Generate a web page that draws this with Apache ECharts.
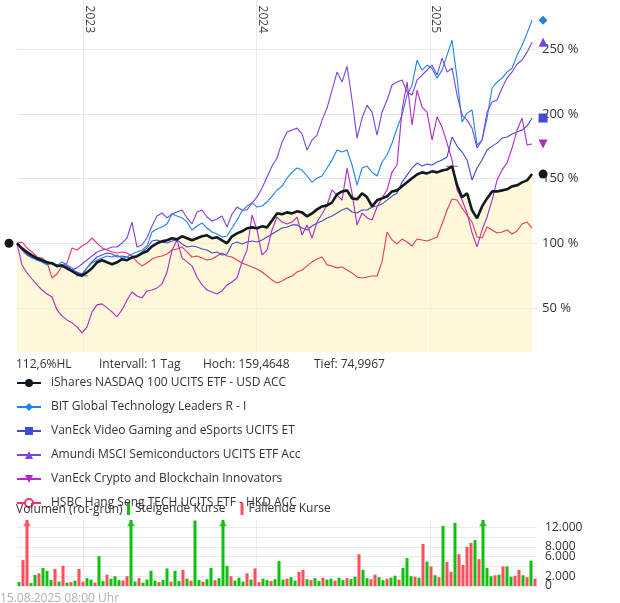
<!DOCTYPE html>
<html>
<head>
<meta charset="utf-8">
<script src="https://cdn.jsdelivr.net/npm/echarts@6/dist/echarts.min.js"></script>
<style>
  html, body { margin: 0; padding: 0; background: #fff; }
  #chart { width: 620px; height: 603px; }
</style>
</head>
<body>
<div id="chart"></div>
<script>
const nasdaq = [
  100, 96.1, 93.1, 90.7, 88.4, 86.9, 85.3, 84.6, 82.3, 83.0,
  80.7, 78.4, 76.1, 75.0, 77.6, 80.7, 85.3, 86.9, 85.3, 83.8,
  85.3, 87.7, 86.9, 89.2, 90.0, 92.3, 93.8, 97.7, 100, 101.5,
  102.3, 103.9, 103.1, 105.4, 103.9, 102.3, 103.9, 105.4, 106.2, 103.9,
  104.6, 102.3, 100, 105.4, 107.7, 109.3, 111.6, 112.3, 111.6, 113.1,
  112.3, 117.7, 123.1, 122.4, 123.9, 123.1, 124.7, 123.9, 120.8, 123.1,
  126.2, 128.5, 129.3, 131.6, 137.8, 140.1, 140.9, 134.7, 134.0, 138.6,
  135.5, 128.5, 133.2, 134.7, 136.3, 140.1, 140.9, 144.0, 147.1, 150.2,
  153.2, 154.8, 154.0, 155.6, 154.8, 156.3, 157.1, 159.5, 144.8, 135.5,
  138.6, 125.5, 119.3, 128.5, 134.7, 140.1, 140.1, 140.9, 141.7, 144.0,
  144.8, 147.1, 148.6, 153.5
];
const bitTech = [
  100, 94.9, 91.0, 88.7, 87.1, 85.6, 83.3, 84.8, 82.5, 85.6,
  83.3, 81.0, 77.1, 74.8, 81.0, 84.8, 87.1, 88.7, 90.2, 89.4,
  91.0, 88.7, 89.4, 91.7, 93.3, 94.9, 98.0, 108.7, 111.0, 112.6,
  114.9, 122.7, 121.1, 119.6, 116.5, 110.3, 113.4, 115.7, 111.8, 108.7,
  107.2, 104.9, 105.6, 111.8, 118.0, 124.9, 128.8, 131.2, 128.0, 128.8,
  131.9, 136.5, 141.2, 144.2, 150.4, 155.0, 158.2, 156.6, 152.0, 147.3,
  150.4, 152.0, 158.2, 164.3, 172.1, 170.5, 172.1, 160.5, 145.0, 158.2,
  159.7, 155.0, 152.0, 162.8, 168.2, 177.5, 189.0, 199.1, 214.5, 222.2,
  241.5, 233.8, 237.6, 235.3, 227.6, 233.8, 245.4, 257.0, 227.6, 193.7,
  200.6, 203.0, 175.9, 179.8, 196.8, 220.0, 224.6, 227.6, 232.3, 235.3,
  245.4, 253.1, 262.4, 272.4
];
const vanEckGaming = [
  100, 95.6, 91.7, 89.4, 87.1, 85.6, 84.0, 84.8, 83.3, 82.5,
  82.5, 79.4, 77.8, 76.3, 81.0, 85.6, 89.4, 91.0, 92.5, 91.7,
  89.4, 90.2, 89.4, 88.7, 89.4, 93.3, 96.4, 101.8, 102.6, 101.0,
  100.2, 101.8, 102.6, 99.5, 97.1, 97.9, 97.1, 95.6, 94.8, 92.5,
  93.3, 91.0, 91.7, 99.5, 101.0, 99.5, 101.0, 101.8, 101.0, 102.6,
  104.9, 107.2, 109.5, 111.8, 112.6, 114.2, 114.2, 111.8, 110.3, 113.4,
  115.7, 117.2, 119.6, 121.1, 123.4, 125.7, 127.3, 124.2, 123.4, 125.7,
  125.7, 128.0, 128.8, 130.3, 133.4, 136.5, 138.8, 147.3, 152.7, 158.2,
  162.0, 159.7, 161.2, 160.5, 162.8, 164.4, 166.7, 182.1, 175.1, 170.5,
  164.4, 148.9, 158.2, 164.4, 172.1, 175.1, 177.4, 181.3, 182.1, 184.4,
  186.0, 187.5, 190.6, 196.8
];
const amundiSemi = [
  100, 94.8, 91.0, 89.4, 88.7, 86.3, 84.8, 84.0, 82.5, 81.7,
  81.7, 79.4, 81.0, 84.0, 87.1, 90.2, 93.3, 94.8, 95.6, 97.1,
  97.1, 100.2, 104.1, 116.4, 97.1, 98.7, 104.1, 113.4, 121.1, 123.4,
  119.6, 122.6, 124.2, 125.7, 119.6, 115.0, 124.2, 125.7, 120.3, 117.2,
  118.8, 121.1, 112.6, 122.6, 128.0, 125.7, 125.7, 131.1, 135.8, 142.7,
  151.2, 159.7, 165.9, 178.2, 185.9, 187.5, 189.0, 184.4, 172.0, 179.8,
  183.6, 195.2, 204.5, 218.4, 232.3, 224.6, 236.9, 210.7, 181.3, 196.8,
  206.8, 201.4, 183.6, 201.4, 210.7, 222.3, 224.6, 226.2, 216.9, 214.5,
  226.2, 230.0, 233.9, 237.7, 230.0, 243.1, 232.3, 235.4, 214.5, 199.1,
  195.2, 189.0, 173.6, 179.8, 201.4, 209.1, 210.7, 220.0, 227.7, 232.3,
  238.5, 241.6, 247.7, 255.4
];
const vanEckCrypto = [
  100, 83.2, 77.1, 72.4, 67.8, 63.9, 60.8, 58.5, 48.5, 43.9,
  40.8, 38.5, 35.4, 30.8, 35.4, 47.0, 52.4, 53.2, 50.1, 47.0,
  43.2, 48.5, 56.2, 62.4, 59.3, 57.8, 63.2, 63.9, 65.5, 68.6,
  77.8, 94.8, 102.6, 88.7, 85.6, 82.5, 74.0, 67.8, 63.9, 62.4,
  60.8, 63.2, 67.8, 70.1, 73.2, 85.6, 94.8, 121.9, 110.3, 91.0,
  94.8, 110.3, 120.3, 116.4, 114.9, 116.4, 120.3, 106.4, 114.1, 104.1,
  116.4, 122.6, 129.6, 141.2, 137.3, 133.4, 158.1, 138.8, 114.1, 123.4,
  119.6, 118.0, 128.0, 135.0, 141.2, 155.1, 160.5, 202.9, 224.5, 191.4,
  218.4, 205.3, 201.4, 179.8, 197.6, 189.8, 177.4, 164.3, 141.2, 133.4,
  123.4, 108.0, 97.2, 110.3, 120.3, 133.4, 148.9, 156.7, 162.1, 173.6,
  187.5, 196.8, 175.9, 176.7
];
const hsbcTech = [
  100, 101.0, 96.4, 93.3, 89.4, 88.7, 85.6, 73.2, 76.3, 82.5,
  84.8, 96.4, 94.8, 97.9, 100.2, 104.1, 100.2, 96.4, 94.8, 93.3,
  92.5, 93.3, 92.5, 90.2, 85.6, 82.5, 84.8, 87.9, 89.4, 90.2,
  91.7, 94.8, 95.6, 97.1, 93.3, 89.4, 90.2, 88.7, 87.1, 87.9,
  90.2, 92.5, 90.2, 89.4, 87.1, 84.8, 83.3, 81.7, 80.2, 77.8,
  74.7, 71.7, 69.3, 70.9, 73.2, 74.7, 77.8, 79.4, 82.5, 85.6,
  87.9, 89.4, 83.3, 82.5, 81.0, 81.7, 79.4, 77.1, 74.0, 73.2,
  74.0, 74.7, 74.7, 85.6, 108.7, 102.6, 99.5, 103.3, 101.0, 97.9,
  103.3, 102.6, 101.8, 103.3, 104.9, 114.9, 125.7, 134.2, 133.4, 127.2,
  121.8, 116.4, 104.9, 104.1, 112.6, 110.3, 108.0, 108.7, 110.3, 107.2,
  109.5, 114.9, 116.4, 111.8
];

// Volumen: positiv = steigende Kurse (grün), negativ = fallende Kurse (rot)
const volume = [
  800, -5300, -20000, 600, 2250, -2600, 3700, 3100, 1200, -3500,
  900, -4100, 700, -800, 1100, -3500, -900, 1600, 1300, -700,
  6100, 1000, -2300, 1500, 2000, 1200, -1100, -2000, 20000, 900,
  -1600, 700, 1300, 3100, 1100, -800, 1200, 3600, -900, 3100,
  1000, -3300, 1500, -1100, 13400, 1200, -900, 1400, 3700, -1200,
  1600, 20000, 4100, -2000, 1100, 1700, 900, -2600, 1300, -3600,
  -800, 1500, 1200, -1000, 1400, 5100, 1300, -1500, 1800, 1100,
  -2900, -3300, 1400, -1200, 1600, 1000, -1700, 1300, 1500, -1100,
  1700, 1200, -1600, 1400, 1900, -6500, 3300, 1600, -1400, -2300,
  1800, 1200, -1500, 1700, 2100, -1300, 3700, 5700, 2000, -1900,
  1700, -8600, 5000, -4000, 2200, -1800, 12300, -4900, -2900, 12900,
  -6500, -4300, -8000, -8800, 9400, -5500, 20000, 3700, 2000, -2200,
  2300, -4000, 4000, 1900, -2100, -3300, 2200, -1800, 5200, -1500
];

const names = [
  'iShares NASDAQ 100 UCITS ETF - USD ACC',
  'BIT Global Technology Leaders R - I',
  'VanEck Video Gaming and eSports UCITS ET',
  'Amundi MSCI Semiconductors UCITS ETF Acc',
  'VanEck Crypto and Blockchain Innovators',
  'HSBC Hang Seng TECH UCITS ETF - HKD ACC'
];
const yearLabels = ['2023', '2024', '2025'];
const percentTicks = [50, 100, 150, 200, 250];
const volGridTicks = [0, 2000, 4000, 6000, 8000, 10000, 12000];
const volLabelTicks = [0, 6000, 8000, 12000];
const volLabelTicksExtra = [2000];
const statsTexts = ['112,6%HL', 'Intervall: 1 Tag', 'Hoch: 159,4648', 'Tief: 74,9967'];
const volTitle = 'Volumen (rot-grün)';
const volNames = ['Steigende Kurse', 'Fallende Kurse'];
const footer = '15.08.2025 08:00 Uhr';

const DAY = 86400000;
const startTime = Date.UTC(2022, 7, 15);
const endTime = Date.UTC(2025, 7, 15);
const stepDays = 10.54;
const lineDates = nasdaq.map((_, i) => startTime + i * stepDays * DAY);
const yearTimes = yearLabels.map(y => Date.UTC(+y, 0, 1));
const volStep = (endTime - startTime) / volume.length;
const volDates = volume.map((_, k) => startTime + (k + 0.5) * volStep);
const volMax = 13500;

const FONT = 'Open Sans';
const GREEN = '#10c010';
const RED = '#ff4f5e';
const downTri = 'path://M0,0 L10,0 L5,9 Z';

const toPairs = arr => arr.map((v, i) => [lineDates[i], v]);
const lastCoord = arr => [lineDates[arr.length - 1], arr[arr.length - 1]];

function lineSeries(name, arr, color, symbol, width, z, extraMarks) {
  const endMark = { coord: lastCoord(arr), symbol: symbol, symbolSize: 9, symbolOffset: [11, 0] };
  if (symbol === 'emptyCircle') {
    endMark.itemStyle = { color: '#fff', borderColor: color, borderWidth: 2 };
    endMark.symbolSize = 8;
  }
  return {
    name: name,
    type: 'line',
    data: toPairs(arr),
    symbol: symbol,
    showSymbol: false,
    lineStyle: { color: color, width: width },
    itemStyle: { color: color },
    emphasis: { disabled: true },
    z: z,
    markPoint: {
      silent: true,
      label: { show: false },
      itemStyle: { color: color },
      data: [endMark].concat(extraMarks || [])
    }
  };
}

const fmtThousands = v => String(v).replace(/\B(?=(\d{3})+(?!\d))/g, '.');

function volAxis(labelValues, withGrid) {
  return {
    type: 'value', gridIndex: 1, position: 'right',
    min: 0, max: volMax,
    axisLine: { show: false },
    axisTick: { show: false, customValues: withGrid ? volGridTicks : labelValues },
    axisLabel: {
      customValues: labelValues, margin: 8,
      showMinLabel: true, showMaxLabel: true,
      fontSize: 12, color: '#333', fontFamily: FONT,
      formatter: fmtThousands
    },
    splitLine: { show: withGrid, lineStyle: { color: '#ebebeb', width: 1 } }
  };
}

const option = {
  animation: false,
  backgroundColor: '#fff',
  textStyle: { fontFamily: FONT },
  title: [
    { text: statsTexts[0], left: 16, top: 359 },
    { text: statsTexts[1], left: 99, top: 359 },
    { text: statsTexts[2], left: 203, top: 359 },
    { text: statsTexts[3], left: 314, top: 359 },
    { text: volTitle, left: 16, top: 504 },
    { text: footer, left: 0, top: 593, textStyle: { color: '#b0b0b0' } }
  ].map(t => Object.assign({ padding: 0 }, t, {
    textStyle: Object.assign({ fontSize: 12, fontWeight: 'normal', color: '#333', fontFamily: FONT }, t.textStyle || {})
  })),
  legend: [
    {
      data: names,
      orient: 'vertical',
      left: 16,
      top: 377,
      padding: 0,
      itemWidth: 24,
      itemHeight: 10,
      itemGap: 12,
      lineStyle: { width: 2 },
      textStyle: { fontSize: 12, color: '#333', fontFamily: FONT, padding: [0, 0, 0, 5] },
      selectedMode: false
    },
    {
      data: volNames,
      orient: 'horizontal',
      left: 127,
      top: 503,
      padding: 0,
      icon: 'rect',
      itemWidth: 3,
      itemHeight: 12,
      itemGap: 15,
      textStyle: { fontSize: 12, color: '#333', fontFamily: FONT },
      selectedMode: false
    }
  ],
  grid: [
    { left: 17, right: 83, top: 0, height: 352, outerBoundsMode: 'none' },
    { left: 17, right: 83, top: 520, bottom: 17, outerBoundsMode: 'none' }
  ],
  xAxis: [
    {
      type: 'value', gridIndex: 0, position: 'top',
      min: startTime, max: endTime,
      axisLine: { show: false },
      axisTick: { show: false, customValues: yearTimes },
      axisLabel: {
        customValues: yearTimes, inside: true, rotate: 90, margin: 33,
        align: 'right', verticalAlign: 'bottom',
        fontSize: 12, color: '#444', fontFamily: FONT,
        formatter: v => String(new Date(v).getUTCFullYear())
      },
      splitLine: { show: true, lineStyle: { color: '#ebebeb', width: 1 } }
    },
    {
      type: 'value', gridIndex: 1,
      min: startTime, max: endTime,
      axisLine: { show: false },
      axisTick: { show: false, customValues: yearTimes },
      axisLabel: { show: false, customValues: yearTimes },
      splitLine: { show: true, lineStyle: { color: '#ebebeb', width: 1 } }
    }
  ],
  yAxis: [
    {
      type: 'value', gridIndex: 0, position: 'right',
      min: 16, max: 288,
      axisLine: { show: false },
      axisTick: { show: false, customValues: percentTicks },
      axisLabel: {
        customValues: percentTicks, margin: 5,
        fontSize: 13, color: '#333', fontFamily: FONT,
        formatter: '{value} %'
      },
      splitLine: { show: true, lineStyle: { color: '#e8e8e8', width: 1 } }
    },
    volAxis(volLabelTicks, true),
    volAxis(volLabelTicksExtra, false)
  ],
  series: [
    {
      name: 'area',
      type: 'line',
      data: toPairs(nasdaq),
      showSymbol: false,
      lineStyle: { width: 0 },
      areaStyle: { color: 'rgba(253,245,190,0.6)', opacity: 1 },
      emphasis: { disabled: true },
      silent: true,
      z: 1
    },
    lineSeries(names[5], hsbcTech, '#eb3769', 'emptyCircle', 1.1, 2),
    lineSeries(names[2], vanEckGaming, '#414bcd', 'rect', 1.1, 3),
    lineSeries(names[1], bitTech, '#1b84e4', 'diamond', 1.1, 4),
    lineSeries(names[3], amundiSemi, '#7c42e0', 'triangle', 1.1, 5),
    lineSeries(names[4], vanEckCrypto, '#b02ac6', downTri, 1.1, 6),
    lineSeries(names[0], nasdaq, '#10191f', 'circle', 2.6, 7, [
      { coord: [lineDates[0], nasdaq[0]], symbol: 'circle', symbolSize: 9, symbolOffset: [-8, 0] },
      { type: 'max', symbol: 'rect', symbolSize: [12, 1.5], itemStyle: { color: '#9a9a9a' } },
      { type: 'min', symbol: 'rect', symbolSize: [12, 1.5], itemStyle: { color: '#9a9a9a' } }
    ]),
    {
      name: volNames[0],
      type: 'bar',
      xAxisIndex: 1, yAxisIndex: 1,
      data: volume.map((v, k) => [volDates[k], v > 0 ? v : null]),
      barWidth: 3,
      barGap: '-100%',
      itemStyle: { color: GREEN },
      emphasis: { disabled: true }
    },
    {
      name: volNames[1],
      type: 'bar',
      xAxisIndex: 1, yAxisIndex: 1,
      data: volume.map((v, k) => [volDates[k], v < 0 ? -v : null]),
      barWidth: 3,
      barGap: '-100%',
      itemStyle: { color: RED },
      emphasis: { disabled: true }
    },
    {
      name: 'clipped',
      type: 'scatter',
      xAxisIndex: 1, yAxisIndex: 1,
      symbol: 'triangle',
      symbolSize: [8, 6],
      data: volume
        .map((v, k) => ({ value: [volDates[k], volMax - 650], itemStyle: { color: v > 0 ? GREEN : RED }, big: Math.abs(v) > volMax }))
        .filter(d => d.big)
        .map(d => ({ value: d.value, itemStyle: d.itemStyle })),
      silent: true,
      z: 5
    }
  ]
};

const chart = echarts.init(document.getElementById('chart'), null, { renderer: 'canvas' });
chart.setOption(option);
</script>
</body>
</html>
